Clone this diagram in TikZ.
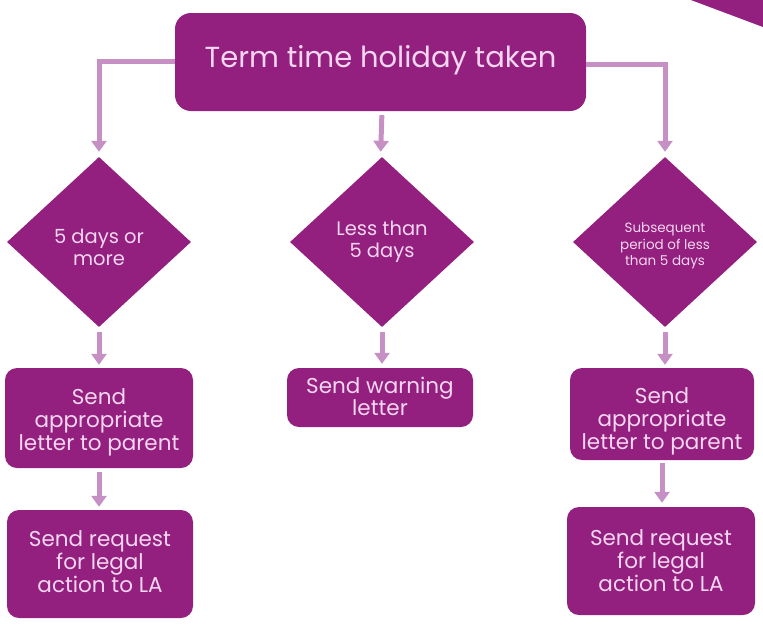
\documentclass[tikz,border=0pt]{standalone}
\usepackage{fontspec}
\setmainfont{Poppins}
\usetikzlibrary{shapes.geometric,arrows.meta}
\definecolor{plum}{HTML}{931F7E}
\definecolor{pinktext}{HTML}{F5D6F0}
\definecolor{lilac}{HTML}{C690C4}
\newcommand\stacklines[2][0pt]{\raisebox{#1}[\height][\depth]{\begin{tabular}{@{}c@{}}#2\end{tabular}}}
\tikzset{
  box/.style={draw=none, fill=plum, rounded corners=12pt, text=pinktext, align=center, inner sep=0pt},
  dia/.style={draw=none, fill=plum, diamond, text=pinktext, align=center, inner sep=0pt, minimum width=184pt, minimum height=170pt},
  conn/.style={draw=lilac, line width=5pt, -{Triangle[width=15pt,length=11pt]}},
  bodyfont/.style={font=\fontsize{21.5}{22}\selectfont},
  diafont/.style={font=\fontsize{19.5}{22.5}\selectfont},
}
\begin{document}
\begin{tikzpicture}[x=1pt,y=-1pt]
\useasboundingbox (0,0) rectangle (763,630);
\fill[plum] (691,0) -- (763,0) -- (763,27) -- cycle;
\node[box, minimum width=411pt, minimum height=98pt, rounded corners=16pt, font=\fontsize{29}{33}\selectfont] (top) at (380.5,62) {\raisebox{2pt}[\height][\depth]{Term time holiday taken}};
\node[dia, diafont] (d1) at (99,242) {\stacklines[-8pt]{5 days or\\more}};
\node[dia, diafont] (d2) at (382,242) {\stacklines{Less than\\5 days}};
\node[dia, font=\fontsize{13.5}{16.5}\selectfont] (d3) at (665,242) {\stacklines[-4pt]{Subsequent\\period of less\\than 5 days}};
\node[box, bodyfont, minimum width=188pt, minimum height=100pt] (l1) at (99,418) {\stacklines[-5pt]{Send\\appropriate\\letter to parent}};
\node[box, bodyfont, minimum width=186pt, minimum height=108pt] (l2) at (100,564) {\stacklines[-1pt]{Send request\\for legal\\action to LA}};
\node[box, bodyfont, minimum width=186pt, minimum height=59pt] (m1) at (380,397.5) {\stacklines[-2pt]{Send warning\\letter}};
\node[box, bodyfont, minimum width=184pt, minimum height=92pt] (r1) at (662,414) {\stacklines[-8pt]{Send\\appropriate\\letter to parent}};
\node[box, bodyfont, minimum width=188pt, minimum height=108pt] (r2) at (661,561) {\stacklines[-3pt]{Send request\\for legal\\action to LA}};
\draw[conn, shorten >=5pt] ([yshift=1pt]top.west) -| (d1.north);
\draw[conn, shorten <=4pt, shorten >=5pt] ([xshift=1.5pt]top.south) -- ([xshift=0pt]top.south |- d2.north);
\draw[conn, shorten >=5pt] ([yshift=-2pt]top.east) -| (d3.north);
\draw[conn, shorten <=5pt, shorten >=3pt] (d1.south) -- (d1.south |- l1.north);
\draw[conn, shorten <=5pt, shorten >=4pt] (d2.south) -- (d2.south |- m1.north);
\draw[conn, shorten <=5pt, shorten >=3pt] (d3.south) -- (d3.south |- r1.north);
\draw[conn, shorten <=4pt, shorten >=3pt] (l1.south) -- (l1.south |- l2.north);
\draw[conn, shorten <=3pt, shorten >=4pt] (r1.south) -- (r1.south |- r2.north);
\end{tikzpicture}
\end{document}
